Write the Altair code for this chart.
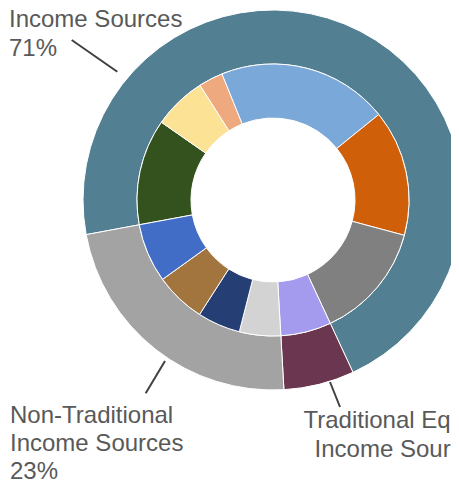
import math
import altair as alt
import pandas as pd

# ---- data -------------------------------------------------------------
outer_names = ["Income Sources", "Traditional Equity Income Sources",
               "Non-Traditional Income Sources"]
outer_values = [71, 6, 23]

inner_names = ["Source 1", "Source 2", "Source 3", "Source 4", "Source 5",
               "Source 6", "Source 7", "Source 8", "Source 9", "Source 10",
               "Source 11"]
inner_values = [12.6, 6.3, 2.9, 20.3, 15.0, 13.9, 6.0, 4.9, 5.1, 6.0, 7.0]

# ---- styles -----------------------------------------------------------
outer_colors = ["#527f92", "#6b3650", "#a3a3a3"]
inner_colors = ["#33521e", "#fce294", "#eeaa7e", "#7aa8d8", "#d05f0a",
                "#808080", "#a59bee", "#d3d3d3", "#253f75", "#a2743e",
                "#416dc6"]

W, H = 443, 477
CX, CY = 265, 192
START = math.radians(259.5)
TEXT_COLOR = "#595959"
LINE_COLOR = "#404040"

outer_df = pd.DataFrame({"name": outer_names, "value": outer_values,
                         "idx": range(len(outer_names))})
inner_df = pd.DataFrame({"name": inner_names, "value": inner_values,
                         "idx": range(len(inner_names))})

color_scale = alt.Scale(domain=outer_names + inner_names,
                        range=outer_colors + inner_colors)
theta_scale = alt.Scale(range=[START, START + 2 * math.pi])


def ring(df, r_in, r_out):
    return alt.Chart(df).mark_arc(
        innerRadius=r_in, outerRadius=r_out, stroke="white", strokeWidth=1
    ).encode(
        theta=alt.Theta("value:Q", stack=True, scale=theta_scale),
        color=alt.Color("name:N", scale=color_scale, legend=None),
        order=alt.Order("idx:Q"),
        x=alt.value(CX),
        y=alt.value(CY),
    )


dummy = alt.Data(values=[{}])

labels = [
    (["Income Sources", "71%"], 1, 18.5, "left", 29),
    (["Non-Traditional", "Income Sources", "23%"], 2, 414.7, "left", 28.2),
    (["Traditional Equity", "Income Sources", "6%"], 480, 420.3, "right", 28.3),
]
leaders = [
    (63.7, 32, 109.3, 63.7),
    (157, 353, 137.7, 385.3),
    (322, 374, 332, 399),
]

layers = [ring(outer_df, 136, 190), ring(inner_df, 82, 136)]

for (x1, y1, x2, y2) in leaders:
    layers.append(
        alt.Chart(dummy).mark_rule(color=LINE_COLOR, strokeWidth=2).encode(
            x=alt.value(x1), y=alt.value(y1), x2=alt.value(x2), y2=alt.value(y2)
        )
    )

for (txt, x, y, align, lh) in labels:
    layers.append(
        alt.Chart(dummy).mark_text(
            align=align, baseline="alphabetic", fontSize=24,
            font="Liberation Sans", color=TEXT_COLOR, lineHeight=lh
        ).encode(x=alt.value(x), y=alt.value(y), text=alt.value(txt))
    )

chart = alt.layer(*layers).properties(
    width=W, height=H,
    autosize=alt.AutoSizeParams(type="none"),
    padding=0,
    background="white",
).configure_view(stroke=None)

chart.save("out.html", embed_options={"renderer": "svg", "actions": False})
